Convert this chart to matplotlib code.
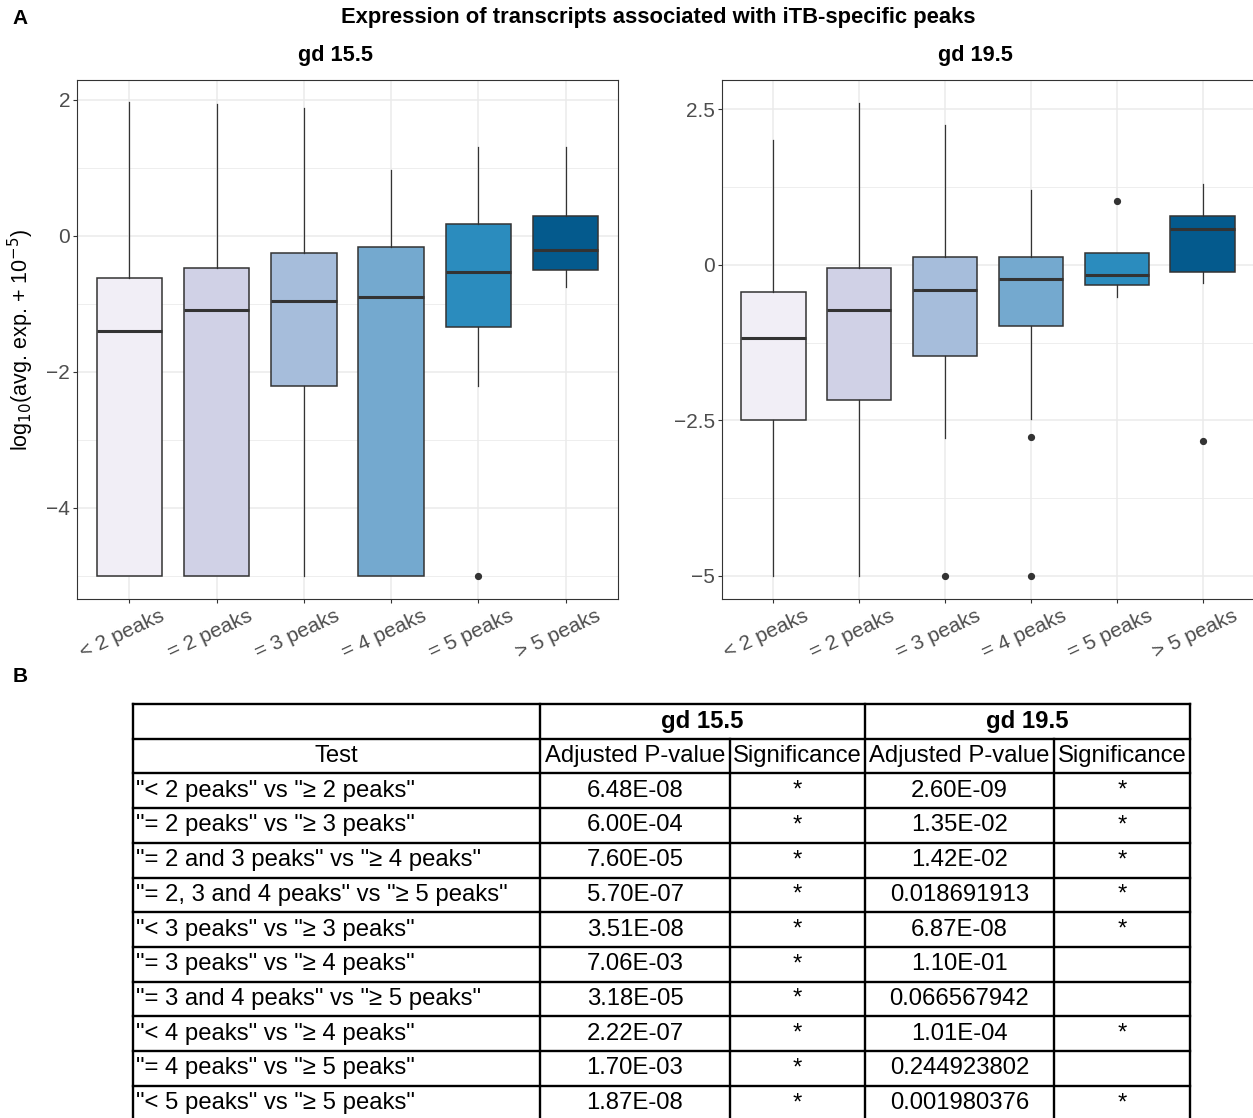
import matplotlib
matplotlib.use("Agg")
import matplotlib.pyplot as plt
from matplotlib.ticker import FixedLocator, MultipleLocator
from matplotlib.transforms import ScaledTranslation

plt.rcParams["font.family"] = ["Liberation Sans", "DejaVu Sans"]
plt.rcParams["mathtext.fontset"] = "custom"
plt.rcParams["mathtext.rm"] = "Liberation Sans Narrow"
plt.rcParams["mathtext.it"] = "Liberation Sans Narrow:italic"

NARROW = ["Liberation Sans Narrow", "Liberation Sans", "DejaVu Sans"]

categories = ["< 2 peaks", "= 2 peaks", "= 3 peaks", "= 4 peaks", "= 5 peaks", "> 5 peaks"]
colors = ["#f1eef6", "#d0d1e6", "#a6bddb", "#74a9cf", "#2b8cbe", "#045a8d"]

# gd 15.5 box statistics
g155_whishi = [1.96, 1.93, 1.88, 0.96, 1.31, 1.31]
g155_q3 = [-0.62, -0.47, -0.25, -0.16, 0.18, 0.29]
g155_med = [-1.40, -1.09, -0.96, -0.90, -0.53, -0.21]
g155_q1 = [-5.0, -5.0, -2.21, -5.0, -1.34, -0.50]
g155_whislo = [-5.0, -5.0, -5.0, -5.0, -2.21, -0.76]
g155_fliers = [[], [], [], [], [-5.0], []]

# gd 19.5 box statistics
g195_whishi = [2.00, 2.60, 2.25, 1.21, 0.19, 1.30]
g195_q3 = [-0.43, -0.05, 0.12, 0.13, 0.19, 0.79]
g195_med = [-1.17, -0.72, -0.40, -0.22, -0.17, 0.58]
g195_q1 = [-2.49, -2.18, -1.46, -0.99, -0.32, -0.11]
g195_whislo = [-5.0, -5.0, -2.79, -2.48, -0.51, -0.29]
g195_fliers = [[], [], [-5.0], [-2.77, -5.0], [1.02], [-2.83]]

g155_ticks = [-4, -2, 0, 2]
g155_ticklabels = ["\u22124", "\u22122", "0", "2"]
g195_ticks = [-5, -2.5, 0, 2.5]
g195_ticklabels = ["\u22125", "\u22122.5", "0", "2.5"]

# table B
tests = ['"< 2 peaks" vs "\u2265 2 peaks"', '"= 2 peaks" vs "\u2265 3 peaks"',
         '"= 2 and 3 peaks" vs "\u2265 4 peaks"', '"= 2, 3 and 4 peaks" vs "\u2265 5 peaks"',
         '"< 3 peaks" vs "\u2265 3 peaks"', '"= 3 peaks" vs "\u2265 4 peaks"',
         '"= 3 and 4 peaks" vs "\u2265 5 peaks"', '"< 4 peaks" vs "\u2265 4 peaks"',
         '"= 4 peaks" vs "\u2265 5 peaks"', '"< 5 peaks" vs "\u2265 5 peaks"']
p155 = ["6.48E-08", "6.00E-04", "7.60E-05", "5.70E-07", "3.51E-08",
        "7.06E-03", "3.18E-05", "2.22E-07", "1.70E-03", "1.87E-08"]
sig155 = ["*", "*", "*", "*", "*", "*", "*", "*", "*", "*"]
p195 = ["2.60E-09", "1.35E-02", "1.42E-02", "0.018691913", "6.87E-08",
        "1.10E-01", "0.066567942", "1.01E-04", "0.244923802", "0.001980376"]
sig195 = ["*", "*", "*", "*", "*", "", "", "*", "", "*"]

W, H = 1253, 1118
fig = plt.figure(figsize=(W / 100, H / 100), dpi=100)


def px_axes(x0, y0, x1, y1):
    return fig.add_axes([x0 / W, 1 - y1 / H, (x1 - x0) / W, (y1 - y0) / H])


def draw_panel(ax, whishi, q3, med, q1, whislo, fliers, ylim, ticks, ticklabels, minor):
    stats = []
    for i in range(len(categories)):
        stats.append(dict(med=med[i], q1=q1[i], q3=q3[i], whislo=whislo[i],
                          whishi=whishi[i], fliers=fliers[i]))
    bp = ax.bxp(stats, positions=range(1, 7), widths=0.75, patch_artist=True,
                showcaps=False,
                boxprops=dict(edgecolor="#333333", linewidth=1.1),
                medianprops=dict(color="#333333", linewidth=2.2),
                whiskerprops=dict(color="#333333", linewidth=0.9),
                flierprops=dict(marker="o", markerfacecolor="#333333",
                                markeredgecolor="#333333", markersize=4.2))
    for patch, c in zip(bp["boxes"], colors):
        patch.set_facecolor(c)
    ax.set_xlim(0.4, 6.6)
    ax.set_ylim(*ylim)
    ax.set_xticks(range(1, 7))
    ax.set_xticklabels(categories, rotation=25, ha="center", va="top",
                       family=NARROW, fontsize=15, color="#4d4d4d")
    ax.yaxis.set_major_locator(FixedLocator(ticks))
    ax.set_yticklabels(ticklabels, family=NARROW, fontsize=15, color="#4d4d4d")
    ax.yaxis.set_minor_locator(MultipleLocator(minor))
    ax.set_axisbelow(True)
    ax.grid(True, which="major", color="#ebebeb", linewidth=1.1)
    ax.grid(True, which="minor", axis="y", color="#ebebeb", linewidth=0.6)
    ax.tick_params(which="major", length=3, width=0.8, color="#333333", pad=2)
    ax.tick_params(which="minor", length=0)
    for s in ax.spines.values():
        s.set_color("#333333")
        s.set_linewidth(0.8)
    # nudge rotated labels a little left, as in the original
    shift = ScaledTranslation(-7 / 100, 0, fig.dpi_scale_trans)
    for tick in ax.xaxis.get_major_ticks():
        tick.label1.set_transform(tick.label1.get_transform() + shift)


ax1 = px_axes(77, 80, 618, 599)
draw_panel(ax1, g155_whishi, g155_q3, g155_med, g155_q1, g155_whislo, g155_fliers,
           (-5.34, 2.29), g155_ticks, g155_ticklabels, 1)
ax1.set_ylabel(r"log$_{10}$(avg. exp. + 10$^{-5}$)", fontsize=15.5, family=NARROW, labelpad=7)

ax2 = px_axes(722, 80, 1254, 599)
draw_panel(ax2, g195_whishi, g195_q3, g195_med, g195_q1, g195_whislo, g195_fliers,
           (-5.37, 2.97), g195_ticks, g195_ticklabels, 1.25)

fig.text(20 / W, 1 - 18 / H, "A", fontsize=15, fontweight="bold", va="center", ha="center")
fig.text(20 / W, 1 - 677 / H, "B", fontsize=15, fontweight="bold", va="center", ha="center")
fig.text(658 / W, 1 - 18 / H, "Expression of transcripts associated with iTB-specific peaks",
         fontsize=15.8, fontweight="bold", va="center", ha="center", family=NARROW)
fig.text(335 / W, 1 - 56 / H, "gd 15.5", fontsize=15.7, fontweight="bold",
         va="center", ha="center", family=NARROW)
fig.text(975 / W, 1 - 56 / H, "gd 19.5", fontsize=15.7, fontweight="bold",
         va="center", ha="center", family=NARROW)

# table
tax = fig.add_axes([0, 0, 1, 1])
tax.set_xlim(0, W)
tax.set_ylim(H, 0)
tax.axis("off")

cols = [133, 540, 730, 865, 1054, 1190]
top = 704
rh = 34.7
nrows = len(tests) + 2
ys = [top + rh * i for i in range(nrows + 1)]
lw = 1.7
for y in ys:
    tax.plot([cols[0], cols[-1]], [y, y], color="black", lw=lw, solid_capstyle="projecting")
for x in [cols[0], cols[1], cols[3], cols[5]]:
    tax.plot([x, x], [ys[0], ys[-1]], color="black", lw=lw, solid_capstyle="projecting")
for x in [cols[2], cols[4]]:
    tax.plot([x, x], [ys[1], ys[-1]], color="black", lw=lw, solid_capstyle="projecting")

fs = 17.2
tax.text((cols[1] + cols[3]) / 2, ys[0] + rh / 2, "gd 15.5", fontsize=fs, fontweight="bold",
         ha="center", va="center")
tax.text((cols[3] + cols[5]) / 2, ys[0] + rh / 2, "gd 19.5", fontsize=fs, fontweight="bold",
         ha="center", va="center")
headers = ["Test", "Adjusted P-value", "Significance", "Adjusted P-value", "Significance"]
for j, h in enumerate(headers):
    tax.text((cols[j] + cols[j + 1]) / 2, ys[1] + rh / 2, h, fontsize=fs,
             ha="center", va="center")
for i in range(len(tests)):
    yc = ys[i + 2] + rh / 2
    tax.text(cols[0] + 3, yc, tests[i], fontsize=fs, ha="left", va="center")
    row = [p155[i], sig155[i], p195[i], sig195[i]]
    for j, v in enumerate(row):
        tax.text((cols[j + 1] + cols[j + 2]) / 2, yc, v, fontsize=fs, ha="center", va="center")

fig.savefig("out.png", dpi=100)
